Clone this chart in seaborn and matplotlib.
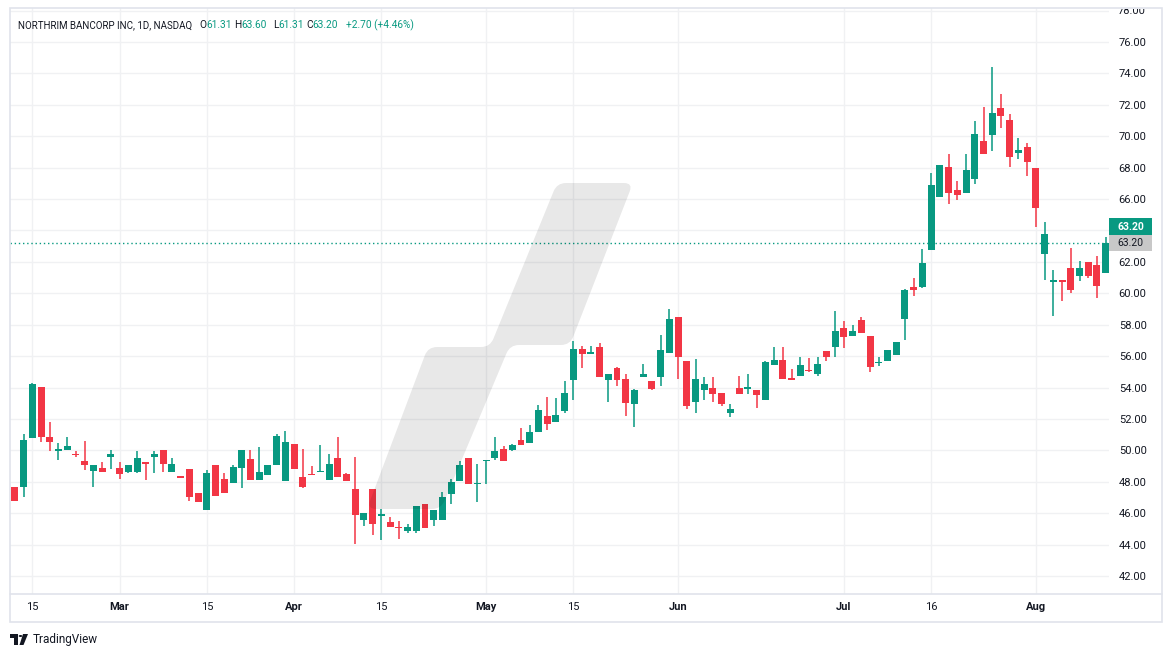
import numpy as np
import pandas as pd
import matplotlib
matplotlib.use("Agg")
import matplotlib.pyplot as plt
import seaborn as sns
from matplotlib.patches import Polygon, Rectangle, Circle, PathPatch
from matplotlib.path import Path
from matplotlib.lines import Line2D

# ---------------- data ----------------
holidays = ["2024-02-19", "2024-03-29", "2024-05-27", "2024-06-19", "2024-07-04"]
dates = pd.bdate_range("2024-02-13", "2024-08-13", freq="C", holidays=holidays)

opens = [47.65, 47.67, 50.79, 54.02, 50.84, 49.97, 50.03, 49.75, 49.31, 48.69,
         48.86, 49.58, 48.86, 48.63, 48.63, 49.24, 49.58, 50.00, 48.63, 48.35,
         48.80, 47.30, 46.18, 49.09, 48.20, 47.90, 48.90, 49.47, 48.09, 48.41,
         49.04, 48.03, 50.42, 48.32, 48.51, 48.60, 48.09, 49.53, 48.51, 47.56,
         45.54, 47.56, 45.82, 45.46, 45.10, 44.86, 44.90, 46.60, 45.54, 45.54,
         47.24, 48.07, 49.53, 47.83, 49.30, 49.53, 50.11, 50.04, 50.68, 50.49,
         51.18, 52.20, 51.82, 52.52, 54.50, 56.47, 56.15, 56.60, 54.45, 55.26,
         54.56, 52.93, 54.65, 54.43, 54.65, 56.17, 58.51, 55.71, 53.05, 53.86,
         53.99, 53.67, 52.35, 53.99, 53.92, 53.86, 53.18, 55.45, 55.77, 54.62,
         54.75, 55.13, 54.88, 56.34, 56.60, 57.81, 57.30, 58.32, 57.30, 55.54,
         55.70, 56.10, 58.38, 60.43, 60.43, 62.73, 66.10, 68.01, 66.55, 66.36,
         67.25, 69.67, 70.05, 71.77, 71.01, 68.90, 69.29, 67.95, 62.49, 60.73,
         60.87, 61.64, 61.09, 62.02, 61.83, 61.31]
highs = [47.70, 51.03, 54.28, 54.02, 51.79, 50.45, 50.84, 49.94, 50.58, 49.10,
         49.24, 50.00, 49.27, 49.05, 49.94, 49.24, 49.94, 50.00, 49.50, 48.35,
         48.80, 47.30, 48.77, 49.09, 48.58, 49.09, 50.04, 50.04, 50.23, 49.09,
         51.02, 51.25, 50.42, 50.11, 49.02, 50.36, 49.79, 50.87, 48.58, 49.60,
         46.03, 47.56, 46.28, 45.77, 45.52, 45.33, 46.48, 46.60, 46.22, 47.37,
         48.20, 49.32, 49.53, 49.15, 49.41, 50.87, 50.30, 50.42, 51.44, 51.63,
         52.90, 53.41, 53.35, 54.43, 56.98, 56.66, 56.66, 56.85, 54.88, 55.32,
         54.88, 53.92, 55.52, 54.43, 57.36, 59.02, 58.51, 55.71, 55.83, 54.69,
         54.69, 53.67, 52.93, 54.75, 54.88, 53.86, 55.71, 56.60, 56.60, 55.20,
         55.96, 55.90, 55.96, 56.34, 58.89, 58.25, 58.00, 58.51, 57.30, 55.96,
         56.40, 56.88, 60.25, 61.00, 62.79, 67.63, 68.14, 68.84, 67.18, 68.84,
         70.94, 71.83, 74.38, 72.66, 71.39, 69.86, 69.54, 67.95, 64.57, 61.47,
         60.87, 62.91, 62.04, 62.02, 62.40, 63.60]
lows = [46.75, 47.04, 50.79, 50.54, 49.97, 49.39, 50.03, 49.58, 48.76, 47.67,
        48.63, 48.82, 48.16, 48.56, 48.56, 48.12, 48.56, 48.63, 48.63, 48.25,
        46.78, 46.69, 46.18, 47.07, 47.32, 47.90, 47.58, 48.13, 48.09, 48.41,
        49.04, 48.03, 48.79, 47.58, 48.41, 48.60, 48.09, 48.28, 48.03, 44.03,
        45.22, 44.59, 44.27, 45.10, 44.39, 44.77, 44.77, 45.03, 45.16, 45.54,
        46.56, 48.07, 47.83, 46.69, 47.83, 49.36, 49.34, 49.94, 50.36, 50.49,
        51.18, 51.31, 51.82, 52.35, 53.24, 55.26, 56.15, 54.69, 53.05, 54.07,
        52.22, 51.52, 54.65, 53.82, 54.07, 56.17, 54.52, 52.61, 52.35, 53.24,
        53.05, 52.80, 52.10, 53.56, 53.56, 52.67, 53.18, 55.45, 54.56, 54.50,
        54.75, 55.00, 54.71, 55.71, 55.96, 56.54, 57.30, 57.49, 55.01, 55.35,
        55.66, 56.10, 57.05, 59.86, 60.31, 62.73, 66.10, 65.66, 65.91, 66.36,
        66.93, 68.84, 69.03, 70.50, 68.01, 68.52, 67.44, 64.25, 60.83, 58.54,
        59.49, 60.00, 60.77, 60.96, 59.69, 61.31]
closes = [46.78, 50.65, 54.21, 50.86, 50.54, 50.09, 50.26, 49.69, 49.07, 49.10,
          48.63, 49.75, 48.50, 49.05, 49.50, 49.14, 49.75, 49.14, 49.12, 48.25,
          47.04, 46.69, 48.58, 47.07, 47.32, 48.96, 50.04, 48.13, 48.64, 49.09,
          50.93, 50.55, 48.79, 47.64, 48.41, 48.70, 49.15, 48.28, 48.03, 45.92,
          46.03, 45.29, 45.97, 45.10, 45.03, 45.14, 46.48, 45.03, 46.22, 47.05,
          48.00, 49.09, 47.83, 47.88, 49.38, 49.98, 49.34, 50.36, 50.36, 51.19,
          52.59, 51.69, 52.27, 53.67, 56.47, 56.15, 56.24, 54.69, 54.88, 54.45,
          52.99, 53.86, 54.88, 53.92, 56.41, 58.38, 55.92, 52.80, 54.56, 54.24,
          53.56, 52.93, 52.61, 53.56, 54.05, 53.50, 55.64, 55.77, 54.56, 54.50,
          55.45, 55.07, 55.52, 55.96, 57.62, 57.24, 57.62, 57.49, 55.32, 55.64,
          56.40, 56.88, 60.21, 60.18, 61.96, 66.87, 68.14, 66.36, 66.23, 67.82,
          70.11, 68.84, 71.45, 71.26, 68.65, 69.10, 68.33, 65.40, 63.76, 60.87,
          60.73, 60.20, 61.64, 61.09, 60.45, 63.20]

tick_dates = ["2024-02-15", "2024-03-01", "2024-03-15", "2024-04-01", "2024-04-15",
              "2024-05-01", "2024-05-15", "2024-06-03", "2024-07-01", "2024-07-16",
              "2024-08-01"]
tick_labels = ["15", "Mar", "15", "Apr", "15", "May", "15", "Jun", "Jul", "16", "Aug"]
month_labels = ["Mar", "Apr", "May", "Jun", "Jul", "Aug"]
y_ticks = [42, 44, 46, 48, 50, 52, 54, 56, 58, 60, 62, 64, 66, 68, 70, 72, 74, 76]
hidden_y_labels = [64]
last_price = 63.20
title = "NORTHRIM BANCORP INC, 1D, NASDAQ"

GREEN = "#089981"
RED = "#F23645"
DARK = "#131722"

# ---------------- figure ----------------
sns.set_theme(style="white")
plt.rcParams["font.family"] = ["Roboto", "DejaVu Sans"]

W, H = 1171, 657
fig = plt.figure(figsize=(W / 100, H / 100), dpi=100)
fig.patch.set_facecolor("white")


def fx(x):
    return x / W


def fy(y):
    return 1 - y / H


ax = fig.add_axes([fx(10), fy(594), (1109 - 10) / W, (594 - 8) / H])
ax.set_facecolor("white")

df = pd.DataFrame({"date": dates[:len(opens)], "open": opens, "high": highs,
                   "low": lows, "close": closes})
df["pos"] = np.arange(len(df))
df["up"] = df["close"] >= df["open"]
df["color"] = np.where(df["up"], GREEN, RED)
df["body_bottom"] = df[["open", "close"]].min(axis=1)
df["body_h"] = (df["close"] - df["open"]).abs().clip(lower=0.07)

ax.vlines(df["pos"], df["low"], df["high"], colors=df["color"], lw=1.1, zorder=2)
ax.bar(df["pos"], df["body_h"], bottom=df["body_bottom"], width=0.8,
       color=df["color"], linewidth=0, zorder=3)

ax.axhline(last_price, color=GREEN, lw=1, linestyle=(0, (1, 2)), zorder=4)

ax.set_xlim(-0.556, 125.38)
ax.set_ylim(40.86, 78.16)

date_index = {d.strftime("%Y-%m-%d"): i for i, d in enumerate(df["date"])}
xt = [date_index[d] for d in tick_dates]
ax.set_xticks(xt)
ax.set_xticklabels(tick_labels)
for lab in ax.get_xticklabels():
    lab.set_color(DARK)
    lab.set_fontsize(8)
    if lab.get_text() in month_labels:
        lab.set_fontweight("bold")

ax.set_yticks(y_ticks)
ax.yaxis.tick_right()
ax.set_yticklabels(["" if v in hidden_y_labels else f"{v:.2f}" for v in y_ticks])
ax.tick_params(axis="y", length=0, pad=7, labelsize=8, labelcolor=DARK)
ax.tick_params(axis="x", length=0, pad=5.5)
ax.grid(True, color="#f0f1f3", lw=1, zorder=0)
ax.set_axisbelow(True)
for s in ax.spines.values():
    s.set_visible(False)

# extra gridline + clipped label at 78
ax.axhline(78, color="#f0f1f3", lw=1, zorder=0)
t78 = fig.text(fx(1118), fy(10.5), "78.00", fontsize=8, color=DARK, va="center", ha="left")
clip_rect = Rectangle((0, 0), 1, fy(8.5), transform=fig.transFigure, visible=False)
fig.add_artist(clip_rect)
t78.set_clip_path(clip_rect)

# frame
fig.add_artist(Rectangle((fx(10), fy(622)), (1162 - 10) / W, (622 - 8) / H,
                         transform=fig.transFigure, fill=False, ec="#e0e3eb", lw=1.2))
fig.add_artist(Line2D([fx(10), fx(1162)], [fy(594), fy(594)], transform=fig.transFigure,
                      color="#e0e3eb", lw=1.2))

# price labels
fig.add_artist(Rectangle((fx(1109), fy(235)), 43 / W, 16.5 / H, transform=fig.transFigure,
                         fc=GREEN, ec="none"))
fig.text(fx(1130.5), fy(226.5), f"{last_price:.2f}", color="white", fontsize=7.5,
         fontweight="bold", ha="center", va="center")
fig.add_artist(Rectangle((fx(1109), fy(251.5)), 43 / W, 16.5 / H, transform=fig.transFigure,
                         fc="#c8c8c8", ec="none"))
fig.text(fx(1130.5), fy(243.5), f"{last_price:.2f}", color=DARK, fontsize=7.5,
         ha="center", va="center")


# watermark shape with rounded corners
def rounded_path(points, r):
    pts = np.array(points, dtype=float)
    n = len(pts)
    verts, codes = [], []
    for i in range(n):
        p_prev, p, p_next = pts[i - 1], pts[i], pts[(i + 1) % n]
        d1 = (p_prev - p) / np.linalg.norm(p_prev - p)
        d2 = (p_next - p) / np.linalg.norm(p_next - p)
        a = p + d1 * r
        b = p + d2 * r
        if i == 0:
            verts.append(a)
            codes.append(Path.MOVETO)
        else:
            verts.append(a)
            codes.append(Path.LINETO)
        verts += [p, b]
        codes += [Path.CURVE3, Path.CURVE3]
    verts.append(verts[0])
    codes.append(Path.CLOSEPOLY)
    return Path([(fx(x), fy(y)) for x, y in verts], codes)


pts = [(557, 183), (633, 183), (570, 345), (510, 345), (441, 509), (367, 509),
       (428, 347), (490, 347)]
fig.add_artist(PathPatch(rounded_path(pts, 9), transform=fig.transFigure,
                         fc="black", alpha=0.09, ec="none", zorder=10))

# header
hdr = [(title, 18, DARK), ("O", 199, DARK), ("61.31", 206, GREEN), ("H", 234, DARK),
       ("63.60", 241, GREEN), ("L", 273, DARK), ("61.31", 278, GREEN), ("C", 306, DARK),
       ("63.20", 312, GREEN), ("+2.70 (+4.46%)", 346, GREEN)]
for i, (txt, x, c) in enumerate(hdr):
    fig.text(fx(x), fy(25), txt, color=c, fontsize=7.0 if i == 0 else 7.3,
             ha="left", va="center")

# TradingView logo
fig.add_artist(Rectangle((fx(10), fy(637.5)), 8 / W, 3.5 / H, transform=fig.transFigure,
                         fc=DARK, ec="none"))
fig.add_artist(Rectangle((fx(14), fy(645)), 4 / W, 11 / H, transform=fig.transFigure,
                         fc=DARK, ec="none"))
fig.add_artist(Polygon([(fx(23), fy(634)), (fx(28), fy(634)), (fx(23.5), fy(645)),
                        (fx(19.5), fy(645))], closed=True, transform=fig.transFigure,
                       fc=DARK, ec="none"))
fig.add_artist(Circle((fx(20.5), fy(636)), 1.8 / W, transform=fig.transFigure,
                      fc=DARK, ec="none"))
fig.text(fx(33), fy(639), "TradingView", color=DARK, fontsize=8.5, ha="left", va="center")

fig.savefig("out.png", dpi=100, facecolor="white")
